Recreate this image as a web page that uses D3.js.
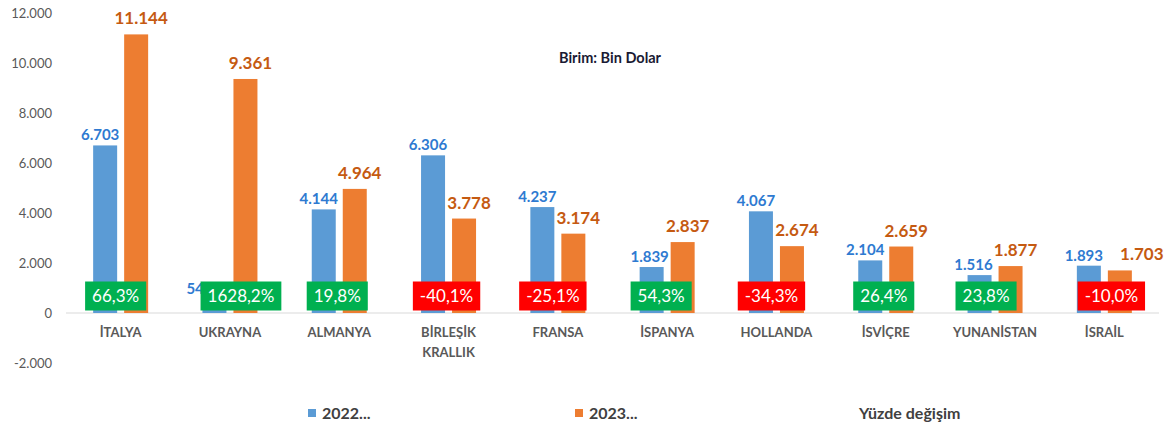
<!DOCTYPE html>
<html>
<head>
<meta charset="utf-8">
<script src="https://cdn.jsdelivr.net/npm/d3@7"></script>
<style>
  body { margin: 0; background: #fff; }
  svg { display: block; font-family: Lato, "Open Sans", sans-serif; }
</style>
</head>
<body>
<script>
var countries = ['İTALYA', 'UKRAYNA', 'ALMANYA', 'BİRLEŞİK KRALLIK', 'FRANSA',
                 'İSPANYA', 'HOLLANDA', 'İSVİÇRE', 'YUNANİSTAN', 'İSRAİL'];
var values2022 = [6703, 542, 4144, 6306, 4237, 1839, 4067, 2104, 1516, 1893];
var values2023 = [11144, 9361, 4964, 3778, 3174, 2837, 2674, 2659, 1877, 1703];
var changes = [66.3, 1628.2, 19.8, -40.1, -25.1, 54.3, -34.3, 26.4, 23.8, -10.0];
var yTicks = [-2000, 0, 2000, 4000, 6000, 8000, 10000, 12000];
var seriesNames = ['2022...', '2023...', 'Yüzde değişim'];

// hand-placed label nudges (px), as in the original sheet
var boxShift = [-5, 11, -2, -2, -5, -6, -5, -2, -9, 7];
var label22Shift = [-5, -15, -5, -5, -5, -2, -5, -5, -6, -5];
var label23Shift = [5, 5, 5, 5, 5, 5, 5, 5, 5, 22];

var w = 1173,
    h = 432;

var svg = d3.select('body')
            .append('svg')
            .attr('width', w)
            .attr('height', h);

// thousands with a dot, decimals with a comma
var fmt = d3.formatLocale({ decimal: ',', thousands: '.', grouping: [3],
                            currency: ['', ''], minus: '-' });
var fmtInt = fmt.format(',d');
var fmtPct = fmt.format('.1f');

var xScale = d3.scaleBand()
               .domain(countries)
               .range([66, 1159]);

// two bars inside each category
var xSub = d3.scaleBand()
             .domain(['a', 'b'])
             .range([-27.5, 27.5])
             .paddingInner(0.226);

var yScale = d3.scaleLinear()
               .domain([-2000, 12000])
               .range([363, 13]);

function center(d) { return xScale(d) + xScale.bandwidth() / 2; }

// y axis labels
svg.selectAll('text.ytick')
   .data(yTicks)
   .enter()
   .append('text')
   .attr('class', 'ytick')
   .text(function(d) { return fmtInt(d); })
   .attr('x', 52)
   .attr('y', function(d) { return yScale(d); })
   .attr('dy', '0.35em')
   .attr('text-anchor', 'end')
   .attr('font-size', '13px')
   .attr('fill', '#595959');

// zero line
svg.append('line')
   .attr('x1', 66).attr('x2', 1159)
   .attr('y1', yScale(0)).attr('y2', yScale(0))
   .attr('stroke', '#d9d9d9')
   .attr('stroke-width', 1);

var rows = countries.map(function(c, i) {
   return { c: c, i: i, v1: values2022[i], v2: values2023[i], ch: changes[i] };
});

// bars
svg.selectAll('rect.b22')
   .data(rows)
   .enter()
   .append('rect')
   .attr('class', 'b22')
   .attr('x', function(d) { return center(d.c) + xSub('a'); })
   .attr('y', function(d) { return yScale(d.v1); })
   .attr('width', xSub.bandwidth())
   .attr('height', function(d) { return yScale(0) - yScale(d.v1); })
   .attr('fill', '#5b9bd5');

svg.selectAll('rect.b23')
   .data(rows)
   .enter()
   .append('rect')
   .attr('class', 'b23')
   .attr('x', function(d) { return center(d.c) + xSub('b'); })
   .attr('y', function(d) { return yScale(d.v2); })
   .attr('width', xSub.bandwidth())
   .attr('height', function(d) { return yScale(0) - yScale(d.v2); })
   .attr('fill', '#ed7d31');

// value labels
svg.selectAll('text.l22')
   .data(rows)
   .enter()
   .append('text')
   .attr('class', 'l22')
   .text(function(d) { return fmtInt(d.v1); })
   .attr('x', function(d) { return center(d.c) + xSub('a') + xSub.bandwidth() / 2 + label22Shift[d.i]; })
   .attr('y', function(d) { return yScale(d.v1) - 5; })
   .attr('text-anchor', 'middle')
   .attr('font-size', '15px')
   .attr('font-weight', 'bold')
   .attr('fill', '#2e7ad1');

svg.selectAll('text.l23')
   .data(rows)
   .enter()
   .append('text')
   .attr('class', 'l23')
   .text(function(d) { return fmtInt(d.v2); })
   .attr('x', function(d) { return center(d.c) + xSub('b') + xSub.bandwidth() / 2 + label23Shift[d.i]; })
   .attr('y', function(d) { return yScale(d.v2) - 10; })
   .attr('text-anchor', 'middle')
   .attr('font-size', '17px')
   .attr('font-weight', 'bold')
   .attr('fill', '#c55a11');

// percentage change boxes
var boxes = svg.selectAll('g.pct')
   .data(rows)
   .enter()
   .append('g')
   .attr('class', 'pct')
   .attr('transform', function(d) { return 'translate(' + (center(d.c) + boxShift[d.i]) + ',296)'; });

var boxRect = boxes.append('rect')
   .attr('fill', function(d) { return d.ch < 0 ? '#ff0000' : '#00b050'; });

var boxText = boxes.append('text')
   .text(function(d) { return fmtPct(d.ch) + '%'; })
   .attr('text-anchor', 'middle')
   .attr('dy', '0.36em')
   .attr('font-size', '17px')
   .attr('fill', '#ffffff');

boxText.each(function(d, i) {
   var bw = this.getComputedTextLength() + 14;
   d3.select(boxRect.nodes()[i])
     .attr('x', -bw / 2)
     .attr('y', -14.5)
     .attr('width', bw)
     .attr('height', 29);
});

// category labels
var cats = svg.selectAll('text.cat')
   .data(countries)
   .enter()
   .append('text')
   .attr('class', 'cat')
   .attr('x', function(d) { return center(d); })
   .attr('y', 337)
   .attr('text-anchor', 'middle')
   .attr('font-size', '13px')
   .attr('font-weight', 'bold')
   .attr('fill', '#595959');

cats.each(function(d) {
   var parts = d === 'BİRLEŞİK KRALLIK' ? d.split(' ') : [d];
   var t = d3.select(this);
   parts.forEach(function(p, k) {
      t.append('tspan')
       .attr('x', center(d))
       .attr('dy', k === 0 ? 0 : 20)
       .text(p);
   });
});

// unit note
svg.append('text')
   .text('Birim: Bin Dolar')
   .attr('x', 559)
   .attr('y', 63)
   .attr('font-size', '14.5px')
   .attr('font-weight', 'bold')
   .attr('fill', '#1a1a33');

// legend
var legendX = [308, 575, 859];
var legendColors = ['#5b9bd5', '#ed7d31', null];

seriesNames.forEach(function(name, i) {
   var lx = legendX[i];
   if (legendColors[i]) {
      svg.append('rect')
         .attr('x', lx).attr('y', 409)
         .attr('width', 8).attr('height', 8)
         .attr('fill', legendColors[i]);
      lx += 14;
   }
   svg.append('text')
      .text(name)
      .attr('x', lx)
      .attr('y', 419)
      .attr('font-size', '16px')
      .attr('font-weight', 'bold')
      .attr('fill', '#404040');
});
</script>
</body>
</html>
